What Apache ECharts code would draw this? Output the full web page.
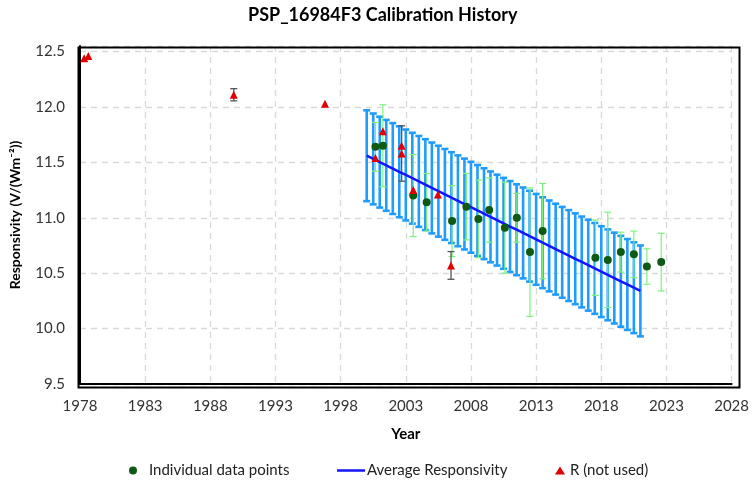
<!DOCTYPE html>
<html>
<head>
<meta charset="utf-8">
<script src="https://cdn.jsdelivr.net/npm/echarts@6/dist/echarts.min.js"></script>
<style>
html, body { margin: 0; padding: 0; background: #fff; }
#chart { width: 752px; height: 485px; }
</style>
</head>
<body>
<div id="chart"></div>
<script>
// individual data points (green) with their uncertainty
const ptYears = [2000.67, 2001.24, 2003.57, 2004.6, 2006.55, 2007.65, 2008.57, 2009.4, 2010.6, 2011.52, 2012.53, 2013.5, 2017.55, 2018.5, 2019.5, 2020.5, 2021.5, 2022.6]
const ptValues = [11.64, 11.65, 11.20, 11.14, 10.97, 11.10, 10.99, 11.07, 10.91, 11.00, 10.69, 10.88, 10.64, 10.62, 10.69, 10.67, 10.56, 10.60]
const ptErr = [0.22, 0.37, 0.37, 0.26, 0.32, 0.30, 0.35, 0.29, 0.41, 0.22, 0.58, 0.43, 0.34, 0.43, 0.18, 0.21, 0.16, 0.26]

// R (not used) points (red); 0 = no error bar
const rYears = [1978.32, 1978.64, 1989.8, 1996.8, 2000.67, 2001.24, 2002.68, 2002.68, 2003.57, 2005.46, 2006.47]
const rValues = [12.44, 12.46, 12.11, 12.03, 11.54, 11.78, 11.65, 11.58, 11.25, 11.21, 10.57]
const rErr = [0, 0, 0.055, 0, 0, 0, 0, 0.25, 0, 0, 0.125]

// average responsivity, every half year
const avgYears = [2000, 2000.5, 2001, 2001.5, 2002, 2002.5, 2003, 2003.5, 2004, 2004.5, 2005, 2005.5, 2006, 2006.5, 2007, 2007.5, 2008, 2008.5, 2009, 2009.5, 2010, 2010.5, 2011, 2011.5, 2012, 2012.5, 2013, 2013.5, 2014, 2014.5, 2015, 2015.5, 2016, 2016.5, 2017, 2017.5, 2018, 2018.5, 2019, 2019.5, 2020, 2020.5, 2021]
const avgValues = [11.560, 11.531, 11.502, 11.473, 11.444, 11.415, 11.386, 11.357, 11.328, 11.299, 11.269, 11.240, 11.211, 11.182, 11.153, 11.124, 11.095, 11.066, 11.037, 11.008, 10.979, 10.950, 10.921, 10.892, 10.863, 10.834, 10.805, 10.775, 10.746, 10.717, 10.688, 10.659, 10.630, 10.601, 10.572, 10.543, 10.514, 10.485, 10.456, 10.427, 10.398, 10.369, 10.340]
const avgErr = 0.41

const xTicks = { min: 1978, max: 2028, step: 5 }
const yTicks = { min: 9.5, max: 12.55, step: 0.5 }

const FONT = 'Lato, "Open Sans", sans-serif'
const GRID = { left: 77, right: 16, top: 46, bottom: 101 }

function pairs(xs, ys) {
  return xs.map((x, i) => [x, ys[i]])
}

function errData(xs, ys, errs) {
  const out = []
  xs.forEach((x, i) => {
    const e = Array.isArray(errs) ? errs[i] : errs
    if (e > 0) out.push([x, ys[i] - e, ys[i] + e])
  })
  return out
}

function errRender(color, width, cap) {
  return function (params, api) {
    const top = api.coord([api.value(0), api.value(2)])
    const bot = api.coord([api.value(0), api.value(1)])
    const style = { stroke: color, lineWidth: width }
    return {
      type: 'group',
      children: [
        { type: 'line', shape: { x1: top[0], y1: top[1], x2: bot[0], y2: bot[1] }, style: style },
        { type: 'line', shape: { x1: top[0] - cap, y1: top[1], x2: top[0] + cap, y2: top[1] }, style: style },
        { type: 'line', shape: { x1: bot[0] - cap, y1: bot[1], x2: bot[0] + cap, y2: bot[1] }, style: style }
      ]
    }
  }
}

const chart = echarts.init(document.getElementById('chart'))

const legendText = { fontSize: 15, color: '#222', fontFamily: FONT }

const option = {
  animation: false,
  textStyle: { fontFamily: FONT },
  title: {
    text: 'PSP_16984F3 Calibration History',
    left: 248,
    top: 6,
    padding: 0,
    textStyle: { fontSize: 18, fontWeight: 'bold', color: '#000', fontFamily: FONT }
  },
  legend: [
    {
      data: ['Individual data points'],
      left: 124, top: 458,
      itemWidth: 22, itemHeight: 8, itemGap: 0,
      textStyle: legendText
    },
    {
      data: [{ name: 'Average Responsivity', icon: 'rect' }],
      left: 332, top: 458,
      itemWidth: 28, itemHeight: 2.5, itemGap: 0,
      textStyle: Object.assign({}, legendText, { padding: [0, 0, 0, -3] })
    },
    {
      data: ['R (not used)'],
      left: 550, top: 458,
      itemWidth: 10, itemHeight: 8, itemGap: 0,
      textStyle: legendText
    }
  ],
  grid: {
    left: GRID.left,
    right: GRID.right,
    top: GRID.top,
    bottom: GRID.bottom
  },
  graphic: [
    {
      type: 'rect',
      left: GRID.left - 1,
      top: GRID.top - 1,
      shape: { width: 752 - GRID.left - GRID.right + 2, height: 485 - GRID.top - GRID.bottom + 2 },
      style: { fill: 'none', stroke: '#000', lineWidth: 2 },
      z: 1,
      silent: true
    }
  ],
  xAxis: {
    type: 'value',
    min: xTicks.min,
    max: xTicks.max,
    interval: xTicks.step,
    name: 'Year',
    nameLocation: 'middle',
    nameGap: 43,
    nameTextStyle: { fontSize: 15, fontWeight: 'bold', color: '#000' },
    axisLine: { lineStyle: { color: '#000', width: 2 } },
    axisTick: { show: false },
    axisLabel: {
      fontSize: 15,
      color: '#333',
      margin: 15,
      formatter: function (v) { return String(v) }
    },
    splitLine: { lineStyle: { color: '#d9d9d9', type: [6, 5], width: 1.3 } }
  },
  yAxis: {
    type: 'value',
    min: yTicks.min,
    max: yTicks.max,
    interval: yTicks.step,
    name: 'Responsivity (V/(Wm\u207B\u00B2))',
    nameLocation: 'middle',
    nameGap: 58,
    nameTextStyle: { fontSize: 14, fontWeight: 'bold', color: '#000' },
    axisLine: { lineStyle: { color: '#000', width: 2 } },
    axisTick: { show: false },
    axisLabel: {
      fontSize: 15,
      color: '#333',
      margin: 15,
      formatter: function (v) {
        return Math.abs(v * 2 - Math.round(v * 2)) < 1e-6 ? v.toFixed(1) : ''
      }
    },
    splitLine: { lineStyle: { color: '#d9d9d9', type: [6, 5], width: 1.3 } }
  },
  series: [
    {
      name: 'avgErr',
      type: 'custom',
      renderItem: errRender('#1e9cff', 2.6, 3.5),
      encode: { x: 0, y: [1, 2] },
      data: errData(avgYears, avgValues, avgErr),
      z: 3
    },
    {
      name: 'ptErr',
      type: 'custom',
      renderItem: errRender('#7cf27c', 1.2, 3.5),
      encode: { x: 0, y: [1, 2] },
      data: errData(ptYears, ptValues, ptErr),
      z: 4
    },
    {
      name: 'rErr',
      type: 'custom',
      renderItem: errRender('#555', 1.3, 3.5),
      encode: { x: 0, y: [1, 2] },
      data: errData(rYears, rValues, rErr),
      z: 4
    },
    {
      name: 'Average Responsivity',
      type: 'line',
      symbol: 'none',
      lineStyle: { color: '#1414ff', width: 2.5 },
      itemStyle: { color: '#1414ff' },
      data: pairs(avgYears, avgValues),
      z: 5
    },
    {
      name: 'Individual data points',
      type: 'scatter',
      symbol: 'circle',
      symbolSize: 8,
      itemStyle: { color: '#0e5a12', opacity: 1 },
      data: pairs(ptYears, ptValues),
      z: 6
    },
    {
      name: 'R (not used)',
      type: 'scatter',
      symbol: 'triangle',
      symbolSize: [8, 8],
      itemStyle: { color: '#e00000', opacity: 1 },
      data: pairs(rYears, rValues),
      z: 7
    }
  ]
}

chart.setOption(option)
</script>
</body>
</html>
